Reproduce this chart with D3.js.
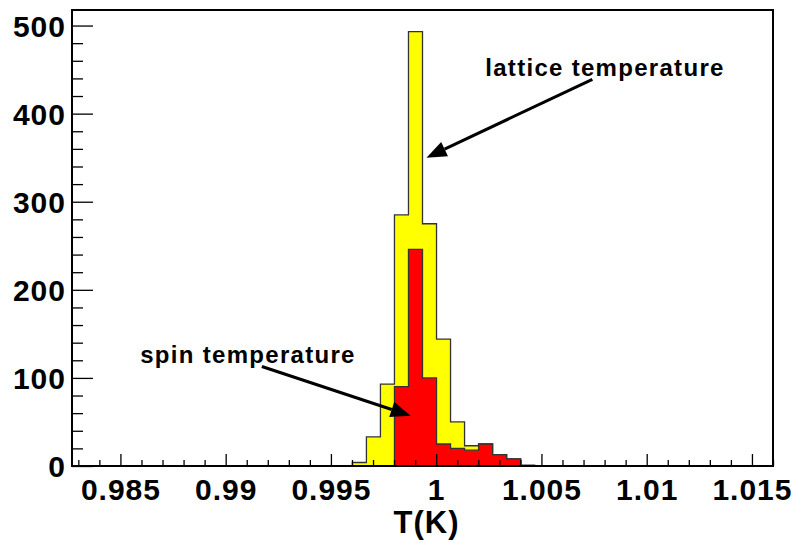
<!DOCTYPE html>
<html lang="en">
<head>
    <meta charset="UTF-8">
    <title>T(K) histogram</title>
    <script src="https://d3js.org/d3.v7.min.js"></script>
    <style>
        body {
            margin: 0;
            background: #fff;
            font-family: "Liberation Sans", Arial, sans-serif;
        }
        .tick-label {
            font-size: 30px;
            font-weight: bold;
            letter-spacing: 1px;
            fill: #000;
        }
        .axis-title {
            font-size: 31px;
            font-weight: bold;
            letter-spacing: 1px;
            fill: #000;
        }
        .note {
            font-size: 24px;
            font-weight: bold;
            letter-spacing: 1.3px;
            fill: #000;
        }
    </style>
</head>
<body>
    <script>
        // histogram: 50 bins between xRange
        const xRange = [0.9827, 1.0160];
        const nBins = 50;

        // counts per bin (bins 0..49)
        const latticeCounts = [
            0, 0, 0, 0, 0, 0, 0, 0, 0, 0,
            0, 0, 0, 0, 0, 0, 0, 0, 0, 0,
            4, 33, 93, 285, 493, 275, 144, 50, 23, 25,
            13, 8, 1, 0, 0, 0, 0, 0, 0, 0,
            0, 0, 0, 0, 0, 0, 0, 0, 0, 0
        ];
        const spinCounts = [
            0, 0, 0, 0, 0, 0, 0, 0, 0, 0,
            0, 0, 0, 0, 0, 0, 0, 0, 0, 0,
            0, 0, 0, 90, 246, 100, 25, 20, 18, 25,
            13, 8, 0, 0, 0, 0, 0, 0, 0, 0,
            0, 0, 0, 0, 0, 0, 0, 0, 0, 0
        ];

        const xMajorTicks = [0.985, 0.99, 0.995, 1, 1.005, 1.01, 1.015];
        const xTickLabels = ["0.985", "0.99", "0.995", "1", "1.005", "1.01", "1.015"];
        const xMinorTicks = [0.983, 0.984, 0.986, 0.987, 0.988, 0.989, 0.991, 0.992, 0.993, 0.994,
            0.996, 0.997, 0.998, 0.999, 1.001, 1.002, 1.003, 1.004, 1.006, 1.007, 1.008, 1.009,
            1.011, 1.012, 1.013, 1.014, 1.016];
        const yMajorTicks = [0, 100, 200, 300, 400, 500];
        const yMinorTicks = [20, 40, 60, 80, 120, 140, 160, 180, 220, 240, 260, 280,
            320, 340, 360, 380, 420, 440, 460, 480];
        const yMax = 517.65;

        // annotations: text position, arrow start and arrow tip, in data units
        const notes = [
            { text: "lattice temperature", tx: 1.00233, ty: 443, x1: 1.00742, y1: 439, x2: 0.99954, y2: 350 },
            { text: "spin temperature", tx: 0.98594, ty: 117, x1: 0.99172, y1: 113, x2: 0.99879, y2: 57 }
        ];

        const margin = { top: 10, right: 22, bottom: 77, left: 72 },
            width = 795 - margin.left - margin.right,
            height = 543 - margin.top - margin.bottom;

        const svg = d3.select("body")
            .append("svg")
            .attr("width", 795)
            .attr("height", 543)
            .append("g")
            .attr("transform", `translate(${margin.left},${margin.top})`);

        const x = d3.scaleLinear().domain(xRange).range([0, width]);
        const y = d3.scaleLinear().domain([0, yMax]).range([height, 0]);

        const binW = (xRange[1] - xRange[0]) / nBins;

        function stepPoints(counts) {
            const pts = [];
            counts.forEach((c, i) => {
                const lo = xRange[0] + i * binW;
                pts.push([lo, c], [lo + binW, c]);
            });
            return pts;
        }

        const area = d3.area()
            .x(d => x(d[0]))
            .y0(y(0))
            .y1(d => y(d[1]));

        const line = d3.line()
            .x(d => x(d[0]))
            .y(d => y(d[1]));

        [[latticeCounts, "#ffff00"], [spinCounts, "#ff0000"]].forEach(([counts, color]) => {
            const pts = stepPoints(counts);
            svg.append("path")
                .attr("d", area(pts))
                .attr("fill", color);
            svg.append("path")
                .attr("d", line(pts))
                .attr("fill", "none")
                .attr("stroke", "#333")
                .attr("stroke-width", 1.3);
        });

        // axes (ticks point inward like ROOT)
        const xAxis = svg.append("g")
            .attr("transform", `translate(0,${height})`)
            .call(d3.axisBottom(x).tickValues(xMajorTicks).tickSize(-12).tickSizeOuter(0)
                .tickFormat((d, i) => xTickLabels[i]));
        xAxis.selectAll("text")
            .attr("class", "tick-label")
            .attr("y", 34)
            .attr("dy", 0);
        svg.append("g")
            .attr("transform", `translate(0,${height})`)
            .call(d3.axisBottom(x).tickValues(xMinorTicks).tickSize(-6).tickSizeOuter(0).tickFormat(""));

        const yAxis = svg.append("g")
            .call(d3.axisLeft(y).tickValues(yMajorTicks).tickSize(-21).tickSizeOuter(0));
        yAxis.selectAll("text")
            .attr("class", "tick-label")
            .attr("x", -6)
            .attr("dy", "0.36em");
        svg.append("g")
            .call(d3.axisLeft(y).tickValues(yMinorTicks).tickSize(-11).tickSizeOuter(0).tickFormat(""));

        svg.selectAll(".domain").remove();
        svg.selectAll(".tick line").attr("stroke", "#000").attr("stroke-width", 1.3);

        svg.append("rect")
            .attr("x", 0)
            .attr("y", 0)
            .attr("width", width)
            .attr("height", height)
            .attr("fill", "none")
            .attr("stroke", "#000")
            .attr("stroke-width", 2);

        svg.append("text")
            .attr("class", "axis-title")
            .attr("x", width / 2 + 4)
            .attr("y", height + 67)
            .attr("text-anchor", "middle")
            .text("T(K)");

        // arrows and labels
        notes.forEach(n => {
            svg.append("text")
                .attr("class", "note")
                .attr("x", x(n.tx))
                .attr("y", y(n.ty))
                .text(n.text);

            const ax = x(n.x1), ay = y(n.y1), bx = x(n.x2), by = y(n.y2);
            const ang = Math.atan2(by - ay, bx - ax);
            const len = 20, half = 8;
            const baseX = bx - len * Math.cos(ang), baseY = by - len * Math.sin(ang);
            svg.append("line")
                .attr("x1", ax).attr("y1", ay)
                .attr("x2", baseX).attr("y2", baseY)
                .attr("stroke", "#000")
                .attr("stroke-width", 3);
            svg.append("polygon")
                .attr("points", [
                    [bx, by],
                    [baseX - half * Math.sin(ang), baseY + half * Math.cos(ang)],
                    [baseX + half * Math.sin(ang), baseY - half * Math.cos(ang)]
                ].map(p => p.join(",")).join(" "))
                .attr("fill", "#000");
        });
    </script>
</body>
</html>
